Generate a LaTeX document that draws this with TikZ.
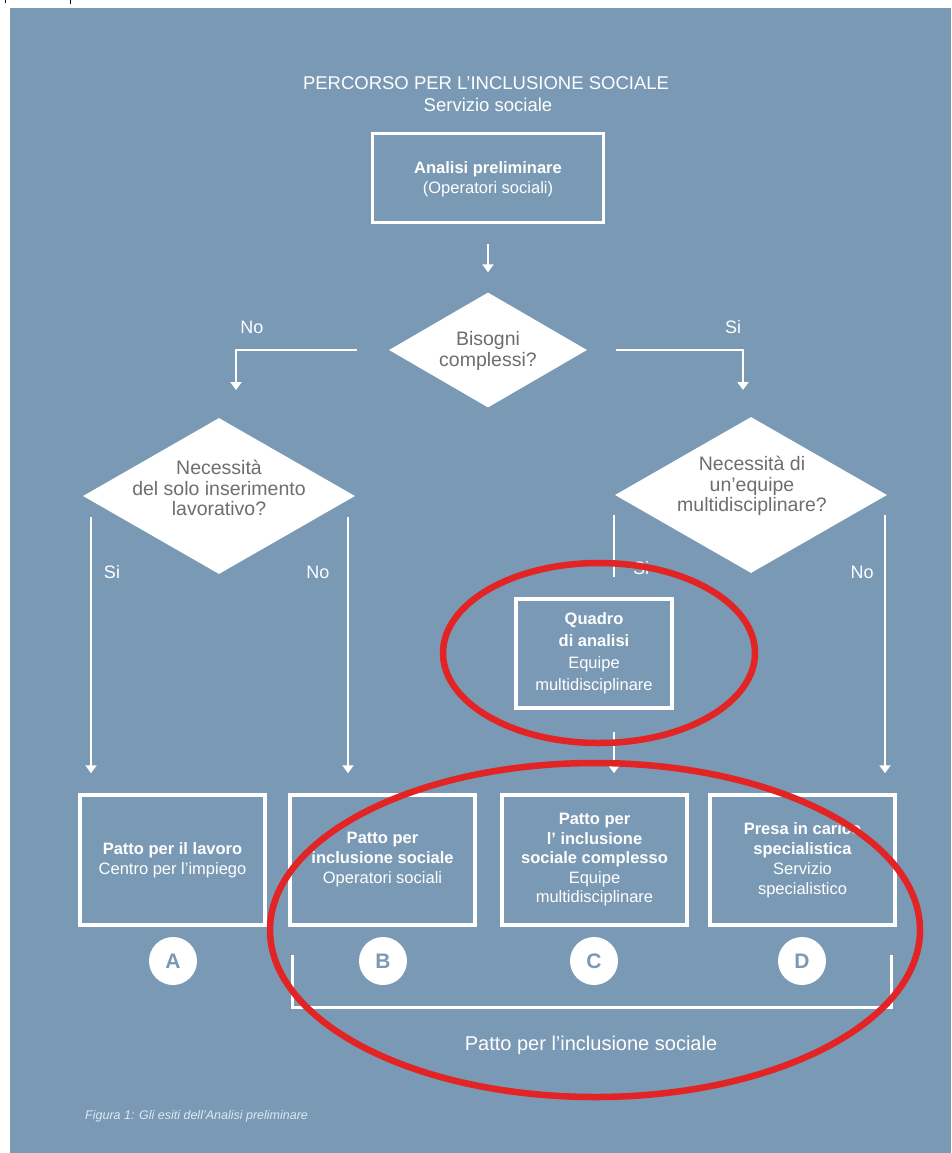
\documentclass[tikz,border=0pt]{standalone}
\usepackage{fontspec}
\setmainfont{Liberation Sans}
\usetikzlibrary{shapes.geometric,arrows.meta,calc}
\definecolor{bg}{RGB}{122,153,180}
\definecolor{dtext}{RGB}{110,110,110}
\definecolor{redc}{RGB}{226,36,36}
\definecolor{captc}{RGB}{222,232,242}
\begin{document}
\begin{tikzpicture}[x=1pt,y=-1pt,
  boxst/.style={draw=white, line width=3.5pt, inner sep=0pt, align=center, text=white,
    font=\fontsize{16.5}{20}\selectfont},
  bottombox/.style={boxst, minimum width=185pt, minimum height=130pt},
  diast/.style={diamond, fill=white, draw=none, inner sep=0pt},
  diatext/.style={align=center, text=dtext, inner sep=0pt, font=\fontsize{19.5}{20.8}\selectfont},
  lbl/.style={text=white, inner sep=0pt, font=\fontsize{18}{20}\selectfont},
  arr/.style={draw=white, line width=2.5pt, -{Triangle[width=11pt,length=8pt]}},
  plainline/.style={draw=white, line width=2.5pt},
  bracketst/.style={draw=white, line width=3pt},
  circst/.style={circle, fill=white, minimum size=48pt, inner sep=0pt, text=bg,
    font=\fontsize{21}{21}\selectfont\bfseries},
  ring/.style={draw=redc, line width=6.5pt}
]
\useasboundingbox (0,0) rectangle (951,1153);
\fill[white] (0,0) rectangle (951,1153);
\fill[bg] (10,8) rectangle (951,1153);
\draw[black, line width=1pt] (5,0) -- (5,3);
\draw[black, line width=1pt] (70,0) -- (70,4);

% title
\node[text=white, inner sep=0pt, font=\fontsize{18.5}{22}\selectfont] (title) at (486,83) {PERCORSO PER L'INCLUSIONE SOCIALE};
\node[text=white, inner sep=0pt, font=\fontsize{18.5}{22}\selectfont] (subtitle) at (488,105) {Servizio sociale};

% first box
\node[boxst, minimum width=231pt, minimum height=89pt] (box1) at (488,178)
  {\rule{0pt}{14pt}{\bfseries Analisi preliminare}\\(Operatori sociali)};

% central diamond
\node[diast, minimum width=198pt, minimum height=115pt] (bis) at (488,350) {};
\node[diatext] (bist) at (488,351) {Bisogni\\complessi?};

% left and right diamonds
\node[diast, minimum width=272pt, minimum height=156pt] (nsolo) at (219,496) {};
\node[diatext] (nsolot) at (219,488) {Necessità\\del solo inserimento\\lavorativo?};
\node[diast, minimum width=272pt, minimum height=156pt] (nequ) at (751,495) {};
\node[diatext] (nequt) at (752,486) {Necessità di\\un'equipe\\multidisciplinare?};

% quadro di analisi
\node[boxst, minimum width=156pt, minimum height=109pt, font=\fontsize{16.5}{22}\selectfont] (quadro) at (594,653.5)
  {{\bfseries Quadro}\\{\bfseries di analisi}\\Equipe\\multidisciplinare};

% bottom boxes
\node[bottombox] (boxA) at (172.5,860) {{\bfseries Patto per il lavoro}\\Centro per l'impiego};
\node[bottombox] (boxB) at (382.5,860) {{\bfseries Patto per}\\{\bfseries inclusione sociale}\\Operatori sociali};
\node[bottombox, font=\fontsize{16.5}{19.5}\selectfont] (boxC) at (594.5,860) {{\bfseries Patto per}\\{\bfseries l' inclusione}\\{\bfseries sociale complesso}\\Equipe\\multidisciplinare};
\node[bottombox] (boxD) at (802.5,860) {{\bfseries Presa in carico}\\{\bfseries specialistica}\\Servizio\\specialistico};

% circles
\node[circst] (cA) at (173,961) {A};
\node[circst] (cB) at (383,961) {B};
\node[circst] (cC) at (594,961) {C};
\node[circst] (cD) at (802,961) {D};

% labels
\node[lbl] (noTop) at (252,327) {No};
\node[lbl] (siTop) at (733,327) {Si};
\node[lbl] (siA) at (112,572) {Si};
\node[lbl] (noB) at (318,572) {No};
\node[lbl] (siQ) at (641,568) {Si};
\node[lbl] (noD) at (862,572) {No};

% connectors
\draw[arr, shorten <=20pt, shorten >=20pt] (box1.south) -- (bis.north);
\coordinate (noEnd) at (236,390);
\coordinate (siEnd) at (743,390);
\draw[arr] ([xshift=-32pt]bis.west) -| (noEnd);
\draw[arr] ([xshift=29pt]bis.east) -| (siEnd);

\coordinate (lsA) at (91,517);
\coordinate (lsB) at (348,517);
\coordinate (rsQ) at (614,515);
\coordinate (rsD) at (885,515);
\draw[arr, shorten >=20pt] (lsA) -- (lsA |- boxA.north);
\draw[arr, shorten >=20pt] (lsB) -- (lsB |- boxB.north);
\draw[plainline, shorten >=20pt] (rsQ) -- (rsQ |- quadro.north);
\draw[arr, shorten >=20pt] (rsD) -- (rsD |- boxD.north);
\draw[arr, shorten <=22pt, shorten >=20pt] (quadro.south -| rsQ) -- (rsQ |- boxC.north);

% bracket
\coordinate (brL) at (292,955);
\coordinate (brR) at (891,955);
\draw[bracketst] (brL) -- ++(0,52) -| (brR);
\node[text=white, inner sep=0pt, font=\fontsize{20}{24}\selectfont] (patto) at (591,1045) {Patto per l'inclusione sociale};

% caption
\node[anchor=west, text=captc, inner sep=0pt, font=\fontsize{12.5}{14}\selectfont\itshape] (capt) at (85,1116) {Figura 1: Gli esiti dell'Analisi preliminare};

% red rings
\draw[ring] (599,653) ellipse [x radius=156pt, y radius=90pt];
\draw[ring] (595,930) ellipse [x radius=325pt, y radius=167pt];
\end{tikzpicture}
\end{document}
